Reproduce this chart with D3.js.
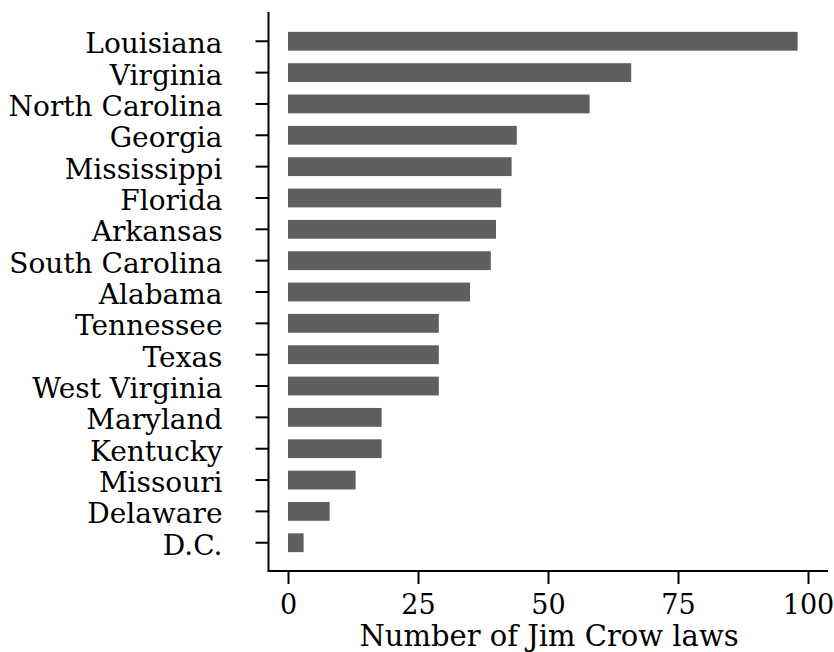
<!DOCTYPE html>
<html><head><meta charset="utf-8">
<script src="https://cdn.jsdelivr.net/npm/d3@7"></script>
<style>body{margin:0;background:#fff}svg{display:block}text{font-family:"DejaVu Serif",serif;fill:#000}</style>
</head><body>
<script>
const states = ["Louisiana","Virginia","North Carolina","Georgia","Mississippi","Florida","Arkansas","South Carolina","Alabama","Tennessee","Texas","West Virginia","Maryland","Kentucky","Missouri","Delaware","D.C."];
const laws = [98,66,58,44,43,41,40,39,35,29,29,29,18,18,13,8,3];
const xTicks = [0,25,50,75,100];
const xTitle = "Number of Jim Crow laws";

const W=834,H=652;
const svg=d3.select("body").append("svg").attr("width",W).attr("height",H);
const x=d3.scaleLinear().domain([0,100]).range([288,808]);
const y=d3.scaleBand().domain(states).range([25.6,558.4]).paddingInner(0.4).paddingOuter(0.2);
const fs=28;

svg.append("g").selectAll("rect").data(states).join("rect")
 .attr("x",x(0)).attr("y",d=>y(d)).attr("height",y.bandwidth())
 .attr("width",(d,i)=>x(laws[i])-x(0)).attr("fill","#5f5f5f");

// y axis
const yAxis=d3.axisLeft(y).tickSize(13).tickPadding(33).tickSizeOuter(0);
const gy=svg.append("g").attr("transform","translate(268.5,0)").call(yAxis);
gy.select(".domain").attr("d","M0,12V571").attr("stroke","#000").attr("stroke-width",2);
gy.selectAll(".tick line").attr("stroke","#000").attr("stroke-width",2);
gy.selectAll(".tick text").attr("font-size",fs).attr("font-family","DejaVu Serif").attr("dy","0.43em");

// x axis
const xAxis=d3.axisBottom(x).tickValues(xTicks).tickSize(13).tickPadding(11).tickSizeOuter(0);
const gx=svg.append("g").attr("transform","translate(0,571)").call(xAxis);
gx.select(".domain").attr("d","M267.5,0H828").attr("stroke","#000").attr("stroke-width",2);
gx.selectAll(".tick line").attr("stroke","#000").attr("stroke-width",2);
gx.selectAll(".tick text").attr("font-size",27).attr("font-family","DejaVu Serif");

svg.append("text").attr("x",549).attr("y",646).attr("text-anchor","middle")
 .attr("font-size",29).text(xTitle);
</script>
</body></html>
